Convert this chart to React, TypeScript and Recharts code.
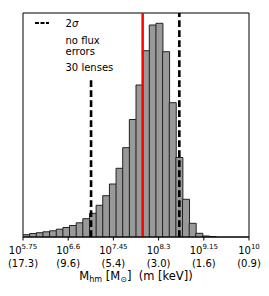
import React from "react";
import {
  ComposedChart,
  Bar,
  XAxis,
  YAxis,
  ReferenceLine,
  ReferenceArea,
  Customized,
} from "recharts";

// log10(M_hm) bin centres (bin width 0.125)
const binCenters = [
  5.8125, 5.9375, 6.0625, 6.1875, 6.3125, 6.4375, 6.5625, 6.6875, 6.8125, 6.9375,
  7.0625, 7.1875, 7.3125, 7.4375, 7.5625, 7.6875, 7.8125, 7.9375, 8.0625, 8.1875,
  8.3125, 8.4375, 8.5625, 8.6875, 8.8125, 8.9375, 9.0625, 9.1875, 9.3125, 9.4375,
  9.5625, 9.6875, 9.8125, 9.9375,
];
const counts = [
  2.3, 3.5, 4.3, 5.2, 6.2, 7.8, 9.5, 11.5, 14.2, 18.3,
  23.7, 31.7, 41.3, 53, 68.7, 89.3, 117.5, 152, 186.3, 212,
  213.7, 185.3, 134.3, 79.5, 37.7, 13.7, 3.7, 1, 0.5, 0,
  0, 0, 0, 0,
];

const tickExponents = [5.75, 6.6, 7.45, 8.3, 9.15, 10];
const tickExponentLabels = ["5.75", "6.6", "7.45", "8.3", "9.15", "10"];
const tickKeVLabels = ["(17.3)", "(9.6)", "(5.4)", "(3.0)", "(1.6)", "(0.9)"];

const redLineX = 8.0;
const sigmaLow = 7.03;
const sigmaHigh = 8.69;
const sigmaLowTop = 160;
const yMax = 224;

const data = binCenters.map((b, i) => ({ bin: b, count: counts[i] }));

const FONT = "'DejaVu Sans', sans-serif";

const Tick = (props: any) => {
  const { x, y, payload } = props;
  const idx = tickExponents.indexOf(payload.value);
  return (
    <g transform={`translate(${x},${y})`}>
      <text textAnchor="middle" fontFamily={FONT} fontSize={10} fill="#000" y={13.5}>
        10
        <tspan fontSize={7} dy={-5.5}>
          {tickExponentLabels[idx]}
        </tspan>
      </text>
      <text textAnchor="middle" fontFamily={FONT} fontSize={10} fill="#000" y={26.5}>
        {tickKeVLabels[idx]}
      </text>
    </g>
  );
};

const Overlay = () => (
  <g fontFamily={FONT} fontSize={10} fill="#000">
    <line x1={35} x2={49} y1={23} y2={23} stroke="#000" strokeWidth={2} strokeDasharray="4 1.5" />
    <text x={65.5} y={26.5}>
      2<tspan fontStyle="italic">σ</tspan>
    </text>
    <text x={65.5} y={43.5}>no flux</text>
    <text x={65.5} y={55}>errors</text>
    <text x={65.5} y={70.5}>30 lenses</text>
    <text x={136} y={280} textAnchor="middle" fontSize={11.5}>
      M
      <tspan fontSize={8} dy={2}>hm</tspan>
      <tspan dy={-2}> [M</tspan>
      <tspan fontSize={8} dy={2}>⊙</tspan>
      <tspan dy={-2}>]{"\u00a0\u00a0"}(m [keV])</tspan>
    </text>
  </g>
);

export default function App() {
  return (
    <div style={{ position: "absolute", left: 0, top: 0 }}>
      <ComposedChart
        width={269}
        height={296}
        data={data}
        margin={{ top: 13, left: 23, right: 20, bottom: 9 }}
        barCategoryGap={0}
        barGap={0}
      >
        <XAxis
          dataKey="bin"
          type="number"
          domain={[5.75, 10]}
          ticks={tickExponents}
          interval={0}
          allowDataOverflow
          height={50}
          tickSize={3.5}
          tickMargin={0}
          tickLine={{ stroke: "#000" }}
          axisLine={{ stroke: "#000" }}
          tick={<Tick />}
        />
        <YAxis type="number" domain={[0, yMax]} allowDataOverflow hide />
        <Bar
          dataKey="count"
          fill="#999999"
          stroke="#222"
          strokeWidth={1}
          isAnimationActive={false}
        />
        <ReferenceLine
          segment={[
            { x: sigmaLow, y: 0 },
            { x: sigmaLow, y: sigmaLowTop },
          ]}
          stroke="#000"
          strokeWidth={2.6}
          strokeDasharray="6.7 3.3"
        />
        <ReferenceLine
          x={sigmaHigh}
          stroke="#000"
          strokeWidth={2.6}
          strokeDasharray="6.7 3.3"
        />
        <ReferenceLine x={redLineX} stroke="#ff0000" strokeWidth={2.5} />
        <ReferenceArea
          x1={5.75}
          x2={10}
          y1={0}
          y2={yMax}
          fill="none"
          fillOpacity={0}
          stroke="#000"
          strokeWidth={1}
        />
        <Customized component={<Overlay />} />
      </ComposedChart>
    </div>
  );
}
